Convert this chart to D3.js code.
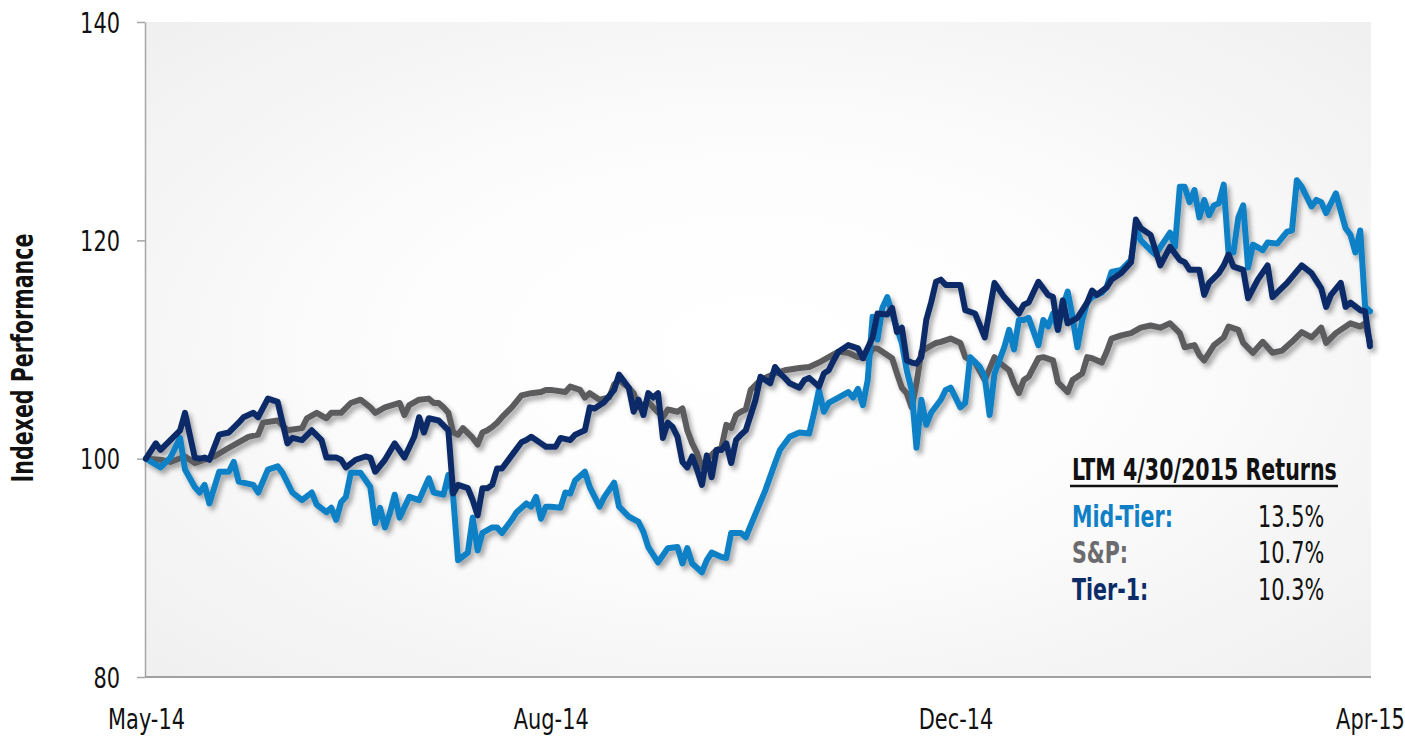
<!DOCTYPE html>
<html><head><meta charset="utf-8">
<script src="https://cdn.jsdelivr.net/npm/d3@7"></script>
<style>html,body{margin:0;padding:0;background:#fff;overflow:hidden}</style>
</head><body><svg id="chart" width="1405" height="736"></svg>
<script>
// ---------- data ----------
const tickDays = [0, 83, 166, 251];
const tickLabels = ["May-14", "Aug-14", "Dec-14", "Apr-15"];
const yTicks = [80, 100, 120, 140];
const legendTitle = "LTM 4/30/2015 Returns";
const seriesNames = ["Mid-Tier:", "S&P:", "Tier-1:"];
const seriesReturns = ["13.5%", "10.7%", "10.3%"];

// [trading day, indexed value]
const midTier = [[0,100.0],[3,99.2],[5,100.1],[7,101.9],[8,99.0],[10,97.4],[11,96.9],[12,97.6],[13,95.9],[15,98.8],[17,98.8],[18,99.7],[19,97.9],[22,97.6],[23,96.9],[25,99.0],[27,99.3],[28,98.7],[30,96.9],[32,96.2],[34,96.9],[35,95.8],[37,95.1],[38,95.5],[39,94.4],[40,96.0],[41,96.5],[42,98.7],[44,98.7],[46,97.4],[47,94.1],[48,95.5],[49,93.7],[50,95.0],[51,96.7],[52,94.6],[54,96.5],[56,96.2],[58,98.2],[59,96.9],[61,96.7],[62,98.5],[63,96.5],[64,90.7],[66,91.4],[67,94.6],[68,91.6],[69,93.2],[71,93.7],[72,93.7],[73,93.2],[75,94.4],[76,95.1],[78,95.9],[79,95.6],[80,96.5],[81,94.5],[82,95.6],[83,95.6],[85,95.5],[86,96.9],[87,96.8],[88,98.0],[90,98.8],[91,97.4],[93,95.6],[94,96.5],[96,97.8],[97,95.6],[99,94.7],[101,94.2],[102,93.3],[103,91.9],[105,90.5],[107,91.8],[109,91.9],[110,90.4],[111,91.8],[112,90.4],[114,89.6],[115,90.7],[116,91.4],[118,91.0],[119,90.9],[120,93.2],[122,93.2],[123,92.8],[124,93.9],[127,97.1],[129,99.6],[130,100.8],[132,102.0],[134,102.4],[136,102.3],[137,104.2],[138,106.3],[139,104.3],[140,105.1],[142,105.6],[144,106.1],[145,105.6],[146,106.4],[147,104.9],[148,107.2],[149,113.0],[150,110.9],[151,113.8],[152,114.8],[153,113.3],[155,110.6],[156,108.1],[157,106.3],[158,101.0],[159,105.4],[160,103.1],[161,104.2],[163,105.4],[164,106.3],[165,106.5],[167,104.7],[168,105.1],[169,109.3],[171,108.4],[172,107.5],[173,104.0],[174,107.8],[175,109.0],[176,110.2],[177,111.8],[178,110.0],[179,112.7],[180,112.7],[181,112.9],[183,110.4],[184,112.7],[185,112.1],[186,113.3],[187,111.8],[188,113.9],[189,115.3],[190,113.0],[191,110.2],[192,112.7],[193,114.3],[194,114.8],[196,115.2],[197,115.7],[198,117.1],[200,117.3],[202,118.2],[203,121.1],[204,120.0],[206,119.1],[207,118.7],[210,120.7],[211,119.4],[212,124.9],[213,124.9],[214,123.5],[215,124.6],[216,122.1],[217,123.7],[218,122.3],[219,123.2],[220,123.4],[221,125.1],[222,118.8],[223,118.9],[224,122.1],[225,123.2],[226,117.5],[227,119.6],[229,119.1],[230,119.8],[232,119.7],[234,120.8],[235,120.9],[236,125.5],[237,124.9],[239,123.1],[240,123.7],[241,123.5],[242,122.5],[244,124.3],[246,121.1],[247,120.5],[248,118.9],[249,120.9],[250,113.9],[251,113.5]];

const sp500 = [[0,100.0],[3,99.9],[5,99.7],[8,100.2],[10,99.6],[14,100.2],[17,101.0],[19,101.5],[21,102.0],[23,102.2],[24,103.3],[27,103.5],[29,102.6],[32,102.8],[33,103.7],[35,104.2],[37,103.7],[38,104.2],[40,104.2],[42,105.1],[44,105.4],[46,104.7],[47,104.2],[49,104.7],[52,105.1],[53,104.0],[54,104.9],[56,105.4],[58,105.5],[59,105.1],[60,105.1],[61,104.7],[62,104.2],[63,102.4],[64,102.2],[65,102.8],[67,101.9],[68,101.3],[69,102.4],[70,102.6],[71,102.9],[72,103.3],[73,103.8],[75,104.7],[77,105.8],[79,106.0],[81,106.1],[82,106.3],[83,106.3],[86,106.1],[87,106.6],[89,106.3],[90,105.6],[91,106.0],[93,105.4],[95,105.6],[96,106.8],[97,107.2],[99,106.5],[100,106.0],[101,104.7],[103,105.2],[104,104.7],[106,103.8],[107,104.5],[109,104.3],[110,104.6],[111,102.6],[112,101.4],[113,100.5],[114,99.2],[115,99.9],[117,100.8],[118,101.0],[119,103.1],[120,102.8],[121,104.0],[122,104.3],[123,104.5],[124,106.3],[126,107.2],[129,107.8],[131,108.1],[134,108.3],[136,108.4],[138,108.8],[140,109.3],[142,109.8],[144,109.7],[146,109.3],[148,109.2],[149,110.1],[150,110.1],[152,109.5],[153,109.2],[154,107.8],[155,106.5],[156,106.0],[157,104.7],[158,106.9],[159,109.8],[160,110.1],[162,110.6],[163,110.7],[165,111.0],[167,110.6],[168,109.3],[170,108.8],[172,107.2],[174,109.3],[175,108.8],[177,108.1],[178,106.9],[179,106.0],[180,107.2],[181,107.5],[183,109.2],[184,109.3],[186,109.0],[187,107.0],[189,106.1],[190,107.2],[192,107.8],[193,109.3],[194,109.2],[196,108.8],[197,109.8],[198,111.0],[200,111.3],[202,111.5],[204,112.0],[206,112.2],[208,112.0],[210,112.4],[212,111.5],[213,110.2],[215,110.4],[216,109.5],[217,109.0],[218,109.7],[219,110.4],[221,111.1],[222,112.1],[224,111.8],[225,110.6],[227,109.7],[229,110.7],[231,109.7],[233,109.9],[235,110.7],[237,111.6],[239,111.1],[241,112.0],[242,110.6],[244,111.5],[247,112.4],[249,112.1],[250,112.4],[251,110.7]];

const tier1 = [[0,100.0],[2,101.4],[3,100.8],[7,102.6],[8,104.2],[10,100.1],[11,100.0],[12,100.1],[13,99.9],[15,102.2],[17,102.4],[19,103.3],[20,103.8],[22,104.2],[23,103.8],[25,105.5],[27,105.2],[29,101.4],[30,101.9],[32,101.7],[34,102.6],[36,101.7],[37,100.1],[39,100.1],[40,99.9],[41,99.2],[43,99.9],[45,100.2],[46,100.1],[47,98.8],[49,99.9],[51,101.4],[53,100.1],[55,102.0],[56,103.8],[57,102.4],[58,103.7],[60,103.5],[62,102.6],[63,96.8],[64,97.6],[66,97.3],[67,96.2],[68,94.8],[69,97.3],[70,97.3],[71,97.6],[72,99.1],[73,99.1],[75,100.3],[77,101.5],[78,101.7],[79,102.0],[81,101.4],[82,101.1],[84,101.1],[85,101.9],[87,101.7],[88,102.2],[90,102.6],[91,104.7],[92,104.6],[94,105.2],[96,106.3],[97,107.7],[99,106.5],[100,104.3],[101,105.4],[102,104.0],[103,106.0],[104,105.6],[105,106.0],[106,101.9],[107,103.3],[108,102.9],[109,102.0],[110,99.7],[111,99.2],[112,100.2],[113,99.0],[114,97.6],[115,100.3],[116,98.3],[117,100.8],[118,100.8],[119,101.4],[120,99.6],[121,101.7],[122,102.2],[123,102.6],[125,105.4],[126,107.5],[128,106.9],[129,108.4],[130,107.8],[131,107.4],[132,106.9],[134,106.5],[135,107.2],[136,107.4],[138,106.6],[139,107.8],[140,108.1],[141,109.0],[142,109.8],[144,110.4],[146,110.1],[147,109.2],[149,111.1],[150,113.3],[152,113.2],[153,113.8],[154,111.6],[155,112.0],[156,109.0],[157,108.8],[158,108.7],[159,109.3],[160,112.7],[161,114.3],[162,116.2],[163,116.4],[164,115.9],[167,115.9],[168,113.6],[170,113.3],[172,111.1],[174,116.1],[176,114.8],[179,113.3],[180,114.1],[181,114.3],[183,116.2],[185,115.0],[186,114.8],[187,111.8],[188,114.5],[189,112.4],[191,112.9],[193,114.3],[194,115.4],[195,115.0],[197,115.7],[198,116.4],[200,117.0],[202,118.0],[203,121.9],[204,121.1],[206,120.5],[208,117.7],[210,119.4],[212,118.2],[213,118.0],[214,117.3],[216,117.3],[217,115.0],[218,116.1],[220,117.0],[221,117.7],[222,118.7],[223,117.6],[225,117.3],[226,114.7],[228,116.4],[230,117.7],[231,114.8],[234,116.1],[237,117.7],[239,117.0],[241,115.6],[242,113.9],[243,115.0],[245,116.1],[246,113.9],[247,114.3],[249,113.6],[250,113.5],[251,110.3]];

// ---------- styling ----------
const COLORS = { mid: "#0f80c6", sp: "#5c5c5e", t1: "#0b2c68" };
const FONT = '"Liberation Sans Narrow","DejaVu Sans Condensed","Arial Narrow",sans-serif';

const svg = d3.select("#chart");
const plot = { left: 146, right: 1371, top: 22, bottom: 677 };

const x = d3.scaleLinear().domain([0, 251]).range([plot.left, plot.right - 1]);
const y = d3.scaleLinear().domain([80, 140]).range([plot.bottom, plot.top]);

function measure(str, size, weight) {
  const t = svg.append("text").attr("font-family", FONT).attr("font-size", size)
    .attr("font-weight", weight).text(str);
  const w = t.node().getComputedTextLength();
  t.remove();
  return w;
}
const sxReg = Math.min(1, 77 / measure("May-14", 28, 400));
const sxBold = Math.min(1, 265 / measure(legendTitle, 30, 700));

const defs = svg.append("defs");
const grad = defs.append("radialGradient").attr("id", "bg").attr("cx", "50%").attr("cy", "50%").attr("r", "72%");
grad.append("stop").attr("offset", "0%").attr("stop-color", "#ffffff");
grad.append("stop").attr("offset", "40%").attr("stop-color", "#fdfdfd");
grad.append("stop").attr("offset", "100%").attr("stop-color", "#efefef");

const filt = defs.append("filter").attr("id", "shadow").attr("x", "-5%").attr("y", "-5%").attr("width", "110%").attr("height", "120%");
filt.append("feDropShadow").attr("dx", 3).attr("dy", 4).attr("stdDeviation", 2.5)
  .attr("flood-color", "#000").attr("flood-opacity", 0.35);

svg.append("rect").attr("x", plot.left).attr("y", plot.top)
  .attr("width", plot.right - plot.left).attr("height", plot.bottom - plot.top)
  .attr("fill", "url(#bg)");

// ---------- axes ----------
const yAxis = svg.append("g").attr("transform", `translate(${plot.left - 1},0)`)
  .call(d3.axisLeft(y).tickValues(yTicks).tickFormat(d3.format("d")).tickSize(8).tickSizeOuter(0).tickPadding(17));
yAxis.select(".domain").attr("stroke", "#a6a6a6").attr("stroke-width", 1.5);
yAxis.selectAll(".tick line").attr("stroke", "#a6a6a6").attr("stroke-width", 1.5);
yAxis.selectAll(".tick text").attr("font-family", FONT).attr("font-size", 28).attr("fill", "#111")
  .attr("dy", "0.36em")
  .each(function () {
    const t = d3.select(this);
    t.attr("x", +t.attr("x") / sxReg).attr("transform", `scale(${sxReg},1)`);
  });

const xAxis = svg.append("g").attr("transform", `translate(0,${plot.bottom})`)
  .call(d3.axisBottom(x).tickValues(tickDays).tickFormat((d, i) => tickLabels[i]).tickSize(0).tickSizeOuter(0).tickPadding(52));
xAxis.select(".domain").attr("stroke", "#a0a0a0").attr("stroke-width", 2)
  .attr("d", `M${plot.left - 1},0H${plot.right}`);
xAxis.selectAll(".tick text").attr("font-family", FONT).attr("font-size", 28).attr("fill", "#111")
  .attr("dy", "0")
  .attr("transform", `scale(${sxReg},1)`);

// y title
svg.append("text").attr("transform", `translate(33,358) rotate(-90) scale(${sxBold},1)`)
  .attr("text-anchor", "middle").attr("font-family", FONT).attr("font-size", 30)
  .attr("font-weight", 700).attr("fill", "#111").text("Indexed Performance");

// ---------- lines ----------
const line = d3.line().x(d => x(d[0])).y(d => y(d[1]));
const series = [
  { data: sp500, color: COLORS.sp },
  { data: midTier, color: COLORS.mid },
  { data: tier1, color: COLORS.t1 }
];
svg.append("g").attr("filter", "url(#shadow)").selectAll("path").data(series).join("path")
  .attr("d", d => line(d.data)).attr("fill", "none").attr("stroke", d => d.color)
  .attr("stroke-width", 6).attr("stroke-linejoin", "round").attr("stroke-linecap", "round");

// ---------- legend box ----------
function txt(str, px, py, size, weight, fill, sx) {
  return svg.append("text").attr("transform", `translate(${px},${py}) scale(${sx},1)`)
    .attr("font-family", FONT).attr("font-size", size).attr("font-weight", weight)
    .attr("fill", fill).text(str);
}
txt(legendTitle, 1072, 480, 30, 700, "#111", sxBold);
svg.append("line").attr("x1", 1070).attr("x2", 1338).attr("y1", 486).attr("y2", 486)
  .attr("stroke", "#111").attr("stroke-width", 2.5);
const legColors = [COLORS.mid, "#6b6b6d", COLORS.t1];
const legY = [527, 563, 600];
seriesNames.forEach((n, i) => {
  txt(n, 1072, legY[i], 30, 700, legColors[i], sxBold);
  txt(seriesReturns[i], 1258, legY[i], 30, 400, "#111", sxReg * 0.93);
});
</script>
</body></html>
